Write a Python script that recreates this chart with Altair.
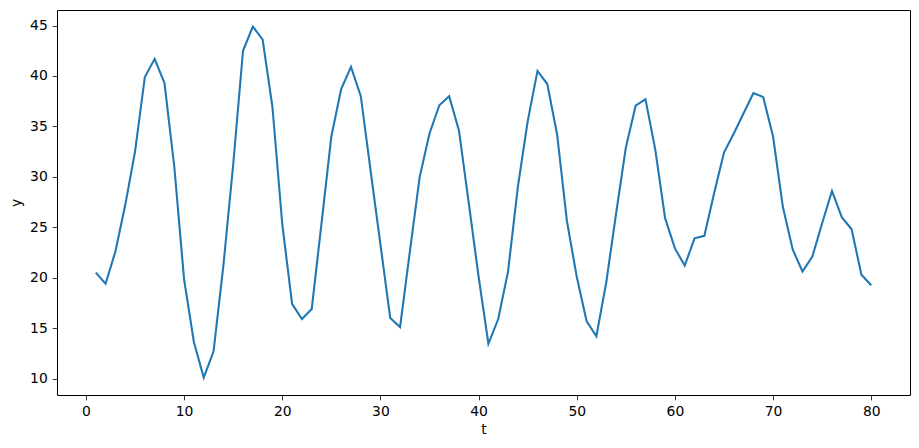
import altair as alt
import pandas as pd

t_values = list(range(1, 81))
y_values = [
    20.5, 19.4, 22.6, 27.2, 32.5, 39.9, 41.7, 39.3, 31.0, 19.8,
    13.6, 10.1, 12.7, 21.2, 31.2, 42.5, 44.9, 43.6, 36.9, 25.3,
    17.4, 15.9, 16.9, 25.4, 34.0, 38.7, 40.9, 38.0, 30.6, 23.3,
    16.0, 15.1, 22.6, 30.0, 34.3, 37.1, 38.0, 34.6, 27.4, 20.1,
    13.45, 15.9, 20.6, 29.0, 35.5, 40.5, 39.2, 34.2, 25.6, 20.1,
    15.7, 14.2, 19.5, 26.3, 32.9, 37.05, 37.7, 32.7, 25.9, 22.9,
    21.2, 23.9, 24.15, 28.4, 32.4, 34.3, 36.3, 38.3, 37.9, 34.0,
    27.0, 22.8, 20.6, 22.1, 25.4, 28.6, 26.0, 24.8, 20.3, 19.25,
]
x_ticks = [0, 10, 20, 30, 40, 50, 60, 70, 80]
y_ticks = [10, 15, 20, 25, 30, 35, 40, 45]

df = pd.DataFrame({"t": t_values, "y": y_values})

axis_common = dict(
    grid=False,
    domain=False,
    tickColor="black",
    tickSize=4.86,
    tickWidth=0.8,
    labelPadding=4.86,
    labelFont="DejaVu Sans",
    labelFontSize=13.9,
    labelColor="black",
    titleFont="DejaVu Sans",
    titleFontSize=13.9,
    titleFontWeight="normal",
    titleColor="black",
)

chart = (
    alt.Chart(df)
    .mark_line(color="#1f77b4", strokeWidth=2.08)
    .encode(
        x=alt.X(
            "t:Q",
            scale=alt.Scale(domain=[-2.95, 83.95], nice=False, zero=False),
            axis=alt.Axis(values=x_ticks, title="t", titlePadding=3.5, labelFlush=False, **axis_common),
        ),
        y=alt.Y(
            "y:Q",
            scale=alt.Scale(domain=[8.37, 46.54], nice=False, zero=False),
            axis=alt.Axis(values=y_ticks, title="y", titlePadding=6, labelFlush=False, **axis_common),
        ),
    )
    .properties(
        width=853,
        height=385,
        autosize=alt.AutoSizeParams(type="none"),
        padding={"left": 49, "top": 2, "right": 1, "bottom": 45},
    )
    .configure_view(stroke="black", strokeWidth=1)
)

chart.save("out.html", embed_options={"renderer": "svg", "actions": False})
